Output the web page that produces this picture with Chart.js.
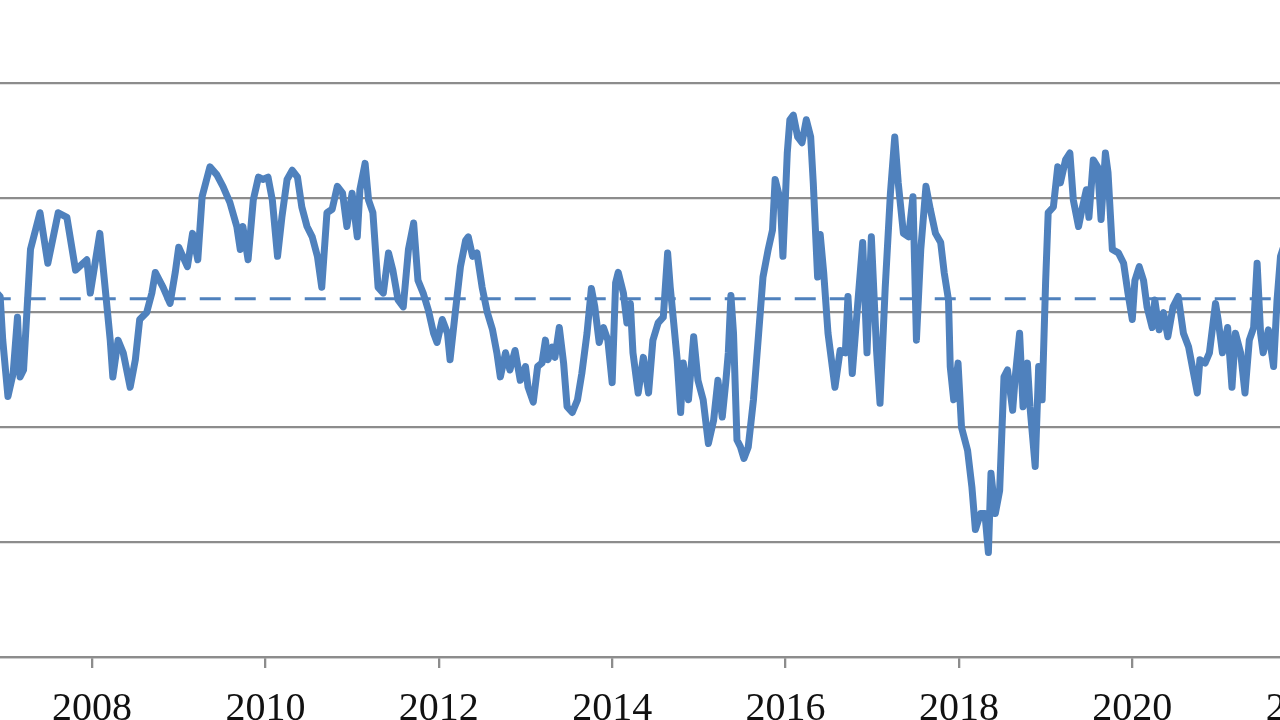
<!DOCTYPE html>
<html>
<head>
<meta charset="utf-8">
<script src="https://cdn.jsdelivr.net/npm/chart.js@4.4.0/dist/chart.umd.min.js"></script>
<style>
  html, body { margin: 0; padding: 0; background: #fff; }
  body { width: 1280px; height: 720px; overflow: hidden; position: relative; }
  /* the picture is a crop of a wider chart, so the canvas hangs off the left edge */
  #wrap { position: absolute; left: -38px; top: 0; }
</style>
</head>
<body>
<div id="wrap"><canvas id="indexLine" width="1407" height="720"></canvas></div>
<script>
// decimal years, one row per calendar year
var dates = [
  2006.82, 2006.94, 2006.97, 2007.03, 2007.09, 2007.14, 2007.17, 2007.21, 2007.29, 2007.40, 2007.49, 2007.61, 2007.71, 2007.81, 2007.94, 2007.98,
  2008.09, 2008.21, 2008.24, 2008.30, 2008.36, 2008.44, 2008.50, 2008.55, 2008.63, 2008.69, 2008.73, 2008.82, 2008.90, 2008.96,
  2009.00, 2009.10, 2009.16, 2009.22, 2009.27, 2009.36, 2009.44, 2009.51, 2009.59, 2009.67, 2009.71, 2009.74, 2009.80, 2009.86, 2009.92, 2009.97,
  2010.03, 2010.08, 2010.14, 2010.19, 2010.25, 2010.31, 2010.37, 2010.42, 2010.48, 2010.54, 2010.60, 2010.65, 2010.71, 2010.77, 2010.83, 2010.89, 2010.94,
  2011.00, 2011.06, 2011.09, 2011.15, 2011.19, 2011.24, 2011.30, 2011.36, 2011.42, 2011.47, 2011.53, 2011.59, 2011.65, 2011.71, 2011.76, 2011.82, 2011.88, 2011.94, 2011.98,
  2012.04, 2012.10, 2012.13, 2012.19, 2012.25, 2012.31, 2012.34, 2012.39, 2012.44, 2012.50, 2012.56, 2012.62, 2012.67, 2012.71, 2012.77, 2012.82, 2012.88, 2012.94,
  2013.00, 2013.03, 2013.09, 2013.14, 2013.19, 2013.23, 2013.26, 2013.31, 2013.34, 2013.39, 2013.44, 2013.48, 2013.54, 2013.60, 2013.65, 2013.71, 2013.76, 2013.80, 2013.85, 2013.90, 2013.95,
  2014.00, 2014.04, 2014.07, 2014.13, 2014.17, 2014.21, 2014.24, 2014.30, 2014.36, 2014.42, 2014.47, 2014.53, 2014.59, 2014.64, 2014.67, 2014.71, 2014.75, 2014.79, 2014.82, 2014.88, 2014.94, 2014.99,
  2015.05, 2015.11, 2015.17, 2015.22, 2015.27, 2015.31, 2015.34, 2015.37, 2015.40, 2015.44, 2015.48, 2015.52, 2015.57, 2015.63, 2015.69, 2015.74, 2015.80, 2015.85, 2015.88, 2015.94, 2015.97,
  2016.02, 2016.05, 2016.09, 2016.14, 2016.19, 2016.24, 2016.29, 2016.32, 2016.37, 2016.40, 2016.44, 2016.49, 2016.57, 2016.63, 2016.69, 2016.72, 2016.77, 2016.83, 2016.89, 2016.94, 2016.99,
  2017.05, 2017.09, 2017.15, 2017.21, 2017.26, 2017.30, 2017.36, 2017.42, 2017.47, 2017.51, 2017.56, 2017.62, 2017.67, 2017.73, 2017.79, 2017.83, 2017.88, 2017.90, 2017.94, 2017.99,
  2018.03, 2018.10, 2018.15, 2018.19, 2018.25, 2018.30, 2018.34, 2018.37, 2018.42, 2018.47, 2018.52, 2018.56, 2018.62, 2018.65, 2018.70, 2018.74, 2018.79, 2018.82, 2018.88, 2018.92, 2018.96,
  2019.00, 2019.03, 2019.09, 2019.14, 2019.17, 2019.23, 2019.28, 2019.32, 2019.38, 2019.42, 2019.47, 2019.50, 2019.55, 2019.60, 2019.64, 2019.69, 2019.72, 2019.77, 2019.84, 2019.90, 2019.95,
  2020.00, 2020.03, 2020.08, 2020.13, 2020.17, 2020.23, 2020.26, 2020.31, 2020.36, 2020.41, 2020.47, 2020.53, 2020.59, 2020.65, 2020.70, 2020.75, 2020.78, 2020.84, 2020.89, 2020.96, 2020.99,
  2021.04, 2021.10, 2021.15, 2021.19, 2021.25, 2021.30, 2021.35, 2021.40, 2021.44, 2021.48, 2021.51, 2021.57, 2021.63, 2021.67, 2021.71, 2021.77
];

var values = [
  0.24, 0.14, -0.24, -0.73, -0.53, -0.04, -0.56, -0.50, 0.55, 0.87, 0.43, 0.87, 0.83, 0.37, 0.46, 0.17,
  0.69, -0.24, -0.56, -0.24, -0.35, -0.65, -0.41, -0.06, 0.00, 0.17, 0.35, 0.22, 0.08, 0.35,
  0.57, 0.40, 0.69, 0.46, 1.01, 1.27, 1.20, 1.10, 0.96, 0.75, 0.55, 0.75, 0.46, 0.98, 1.18, 1.16,
  1.18, 0.98, 0.49, 0.83, 1.16, 1.24, 1.18, 0.92, 0.75, 0.66, 0.49, 0.22, 0.87, 0.90, 1.10, 1.04, 0.75,
  1.04, 0.66, 1.07, 1.30, 0.98, 0.87, 0.22, 0.17, 0.52, 0.37, 0.11, 0.05, 0.55, 0.78, 0.28, 0.17, 0.02, -0.18, -0.26,
  -0.06, -0.18, -0.41, 0.00, 0.40, 0.63, 0.66, 0.49, 0.52, 0.22, 0.00, -0.15, -0.35, -0.56, -0.35, -0.50, -0.33, -0.59,
  -0.47, -0.65, -0.78, -0.47, -0.44, -0.24, -0.41, -0.30, -0.39, -0.13, -0.44, -0.82, -0.87, -0.76, -0.53, -0.18, 0.21, 0.05, -0.26, -0.13, -0.24,
  -0.61, 0.26, 0.35, 0.17, -0.09, 0.08, -0.35, -0.70, -0.39, -0.70, -0.24, -0.09, -0.04, 0.52, 0.22, -0.09, -0.41, -0.87, -0.44, -0.76, -0.21, -0.59,
  -0.76, -1.14, -0.94, -0.59, -0.91, -0.61, -0.35, 0.15, -0.18, -1.11, -1.17, -1.27, -1.17, -0.76, -0.18, 0.31, 0.55, 0.72, 1.16, 0.98, 0.49,
  1.39, 1.68, 1.72, 1.53, 1.48, 1.68, 1.53, 1.13, 0.31, 0.68, 0.35, -0.18, -0.65, -0.33, -0.35, 0.14, -0.53, 0.05, 0.61, -0.35, 0.66,
  -0.33, -0.79, 0.22, 1.04, 1.53, 1.13, 0.69, 0.66, 1.01, -0.24, 0.55, 1.10, 0.90, 0.69, 0.61, 0.35, 0.11, -0.47, -0.76, -0.44,
  -1.00, -1.20, -1.52, -1.89, -1.75, -1.75, -2.09, -1.40, -1.75, -1.55, -0.56, -0.50, -0.85, -0.56, -0.18, -0.82, -0.44, -0.82, -1.34, -0.47, -0.76,
  0.26, 0.87, 0.92, 1.27, 1.13, 1.33, 1.39, 0.98, 0.75, 0.90, 1.07, 0.83, 1.33, 1.27, 0.81, 1.39, 1.22, 0.55, 0.52, 0.43, 0.17,
  -0.06, 0.28, 0.40, 0.28, 0.05, -0.13, 0.11, -0.15, 0.00, -0.21, 0.05, 0.14, -0.18, -0.30, -0.50, -0.70, -0.41, -0.44, -0.35, 0.08, -0.06,
  -0.35, -0.13, -0.65, -0.18, -0.35, -0.70, -0.24, -0.13, 0.43, -0.18, -0.35, -0.15, -0.47, 0.11, 0.49, 0.63
];

var meanLevel = 0.12;
var tickYears = [2008, 2010, 2012, 2014, 2016, 2018, 2020, 2022];

var LINE_BLUE = "#4F81BD";
var GRID_GRAY = "#8c8c8c";

function toPoints(xs, ys) {
  return xs.map(function(x, i) {
    return {x: x, y: ys[i]};
  });
}

function meanPoints() {
  return [
    {x: dates[0], y: meanLevel},
    {x: dates[dates.length - 1], y: meanLevel}
  ];
}

new Chart(document.getElementById("indexLine"), {
  type: "line",
  data: {
    datasets: [{
      data: toPoints(dates, values),
      borderColor: LINE_BLUE,
      borderWidth: 7,
      borderJoinStyle: "round",
      borderCapStyle: "round",
      pointRadius: 0,
      tension: 0,
      order: 1
    }, {
      data: meanPoints(),
      borderColor: LINE_BLUE,
      borderWidth: 3,
      borderDash: [21, 14],
      pointRadius: 0,
      order: 2
    }]
  },
  options: {
    responsive: false,
    animation: false,
    layout: {padding: {top: 83, right: 20, bottom: 0, left: 0}},
    plugins: {legend: {display: false}, tooltip: {enabled: false}},
    scales: {
      x: {
        type: "linear",
        min: 2006.5,
        max: 2022.5,
        afterBuildTicks: function(scale) {
          scale.ticks = tickYears.map(function(v) { return {value: v}; });
        },
        afterFit: function(scale) {
          scale.height = 63;
          scale.paddingLeft = 0;
          scale.paddingRight = 0;
        },
        grid: {drawOnChartArea: false, drawTicks: true, tickLength: 11, color: GRID_GRAY, lineWidth: 2.3},
        border: {display: true, color: GRID_GRAY, width: 2.3},
        ticks: {
          autoSkip: false,
          maxRotation: 0,
          padding: 17,
          color: "#111",
          font: {family: "'Liberation Serif', serif", size: 40},
          callback: function(v) { return String(v); }
        }
      },
      y: {
        min: -3,
        max: 2,
        ticks: {display: false, stepSize: 1},
        grid: {color: GRID_GRAY, lineWidth: 2.3, drawTicks: false},
        border: {display: false}
      }
    }
  }
});
</script>
</body>
</html>
